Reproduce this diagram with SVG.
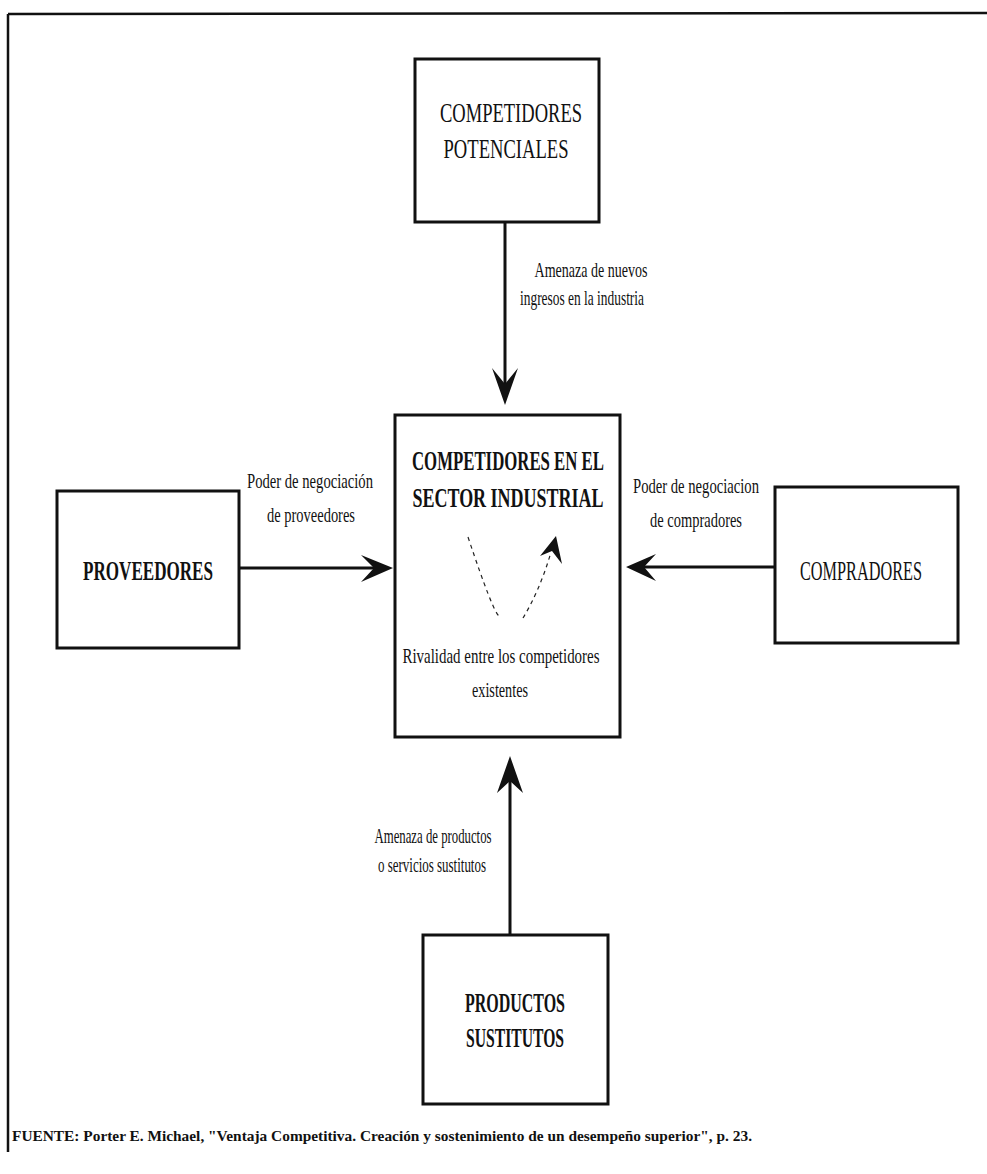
<svg xmlns="http://www.w3.org/2000/svg" width="987" height="1174" viewBox="0 0 987 1174">
  <style>
    .box { fill: #ffffff; stroke: #111111; stroke-width: 3; }
    .frame { fill: none; stroke: #111111; stroke-width: 2.5; }
    .line { fill: none; stroke: #111111; stroke-width: 3; }
    .head { fill: #111111; stroke: none; }
    .title { font-family: "Liberation Serif", "DejaVu Serif", serif; font-size: 27px; fill: #111111; text-anchor: middle; }
    .bold { font-weight: bold; }
    .label { font-family: "Liberation Serif", "DejaVu Serif", serif; font-size: 21px; fill: #111111; text-anchor: middle; }
    .note { font-family: "Liberation Serif", "DejaVu Serif", serif; font-size: 15px; font-weight: bold; fill: #111111; }
    .dash { fill: none; stroke: #222222; stroke-width: 1.2; stroke-dasharray: 4 4; }
  </style>

  <rect x="0" y="0" width="987" height="1174" fill="#ffffff"/>

  <!-- page frame: top and left rules -->
  <path class="frame" d="M8,14 L987,13 M8,14 L8,1152"/>

  <!-- connectors -->
  <g id="connectors">
    <!-- potential entrants -> industry -->
    <line class="line" x1="505" y1="222" x2="505" y2="390"/>
    <polygon class="head" points="505,405 492,368 505,384 518,368"/>
    <text class="label" x="591" y="277" textLength="113" lengthAdjust="spacingAndGlyphs">Amenaza de nuevos</text>
    <text class="label" x="582" y="305" textLength="124" lengthAdjust="spacingAndGlyphs">ingresos en la industria</text>

    <!-- suppliers -> industry -->
    <line class="line" x1="239" y1="568" x2="378" y2="568"/>
    <polygon class="head" points="393,568 361,555 374,568 361,582"/>
    <text class="label" x="310" y="488" textLength="126" lengthAdjust="spacingAndGlyphs">Poder de negociación</text>
    <text class="label" x="311" y="522" textLength="88" lengthAdjust="spacingAndGlyphs">de proveedores</text>

    <!-- buyers -> industry -->
    <line class="line" x1="775" y1="567" x2="640" y2="567"/>
    <polygon class="head" points="626,567 656,554 644,567 656,581"/>
    <text class="label" x="696" y="493" textLength="126" lengthAdjust="spacingAndGlyphs">Poder de negociacion</text>
    <text class="label" x="696" y="527" textLength="92" lengthAdjust="spacingAndGlyphs">de compradores</text>

    <!-- substitutes -> industry -->
    <line class="line" x1="510" y1="935" x2="510" y2="770"/>
    <polygon class="head" points="510,756 497,793 510,781 523,793"/>
    <text class="label" x="433" y="843" textLength="117" lengthAdjust="spacingAndGlyphs">Amenaza de productos</text>
    <text class="label" x="432" y="872" textLength="108" lengthAdjust="spacingAndGlyphs">o servicios sustitutos</text>
  </g>

  <!-- top -->
  <g id="competidores-potenciales">
    <rect class="box" x="415" y="59" width="184" height="163"/>
    <text class="title" x="511" y="122" textLength="142" lengthAdjust="spacingAndGlyphs">COMPETIDORES</text>
    <text class="title" x="506" y="158" textLength="125" lengthAdjust="spacingAndGlyphs">POTENCIALES</text>
  </g>

  <!-- center -->
  <g id="competidores-sector">
    <rect class="box" x="395" y="415" width="225" height="322"/>
    <text class="title bold" x="508" y="470" font-size="27" textLength="192" lengthAdjust="spacingAndGlyphs">COMPETIDORES EN EL</text>
    <text class="title bold" x="508" y="507" font-size="27" textLength="191" lengthAdjust="spacingAndGlyphs">SECTOR INDUSTRIAL</text>
    <!-- rivalry loop -->
    <path class="dash" d="M468,537 Q493,612 499,616"/>
    <path class="dash" d="M523,618 Q540,590 551,552"/>
    <polygon class="head" points="556,536 540,556 552,551 562,564"/>
    <text class="label" x="501" y="663" textLength="197" lengthAdjust="spacingAndGlyphs">Rivalidad entre los competidores</text>
    <text class="label" x="500" y="697" textLength="56" lengthAdjust="spacingAndGlyphs">existentes</text>
  </g>

  <!-- left -->
  <g id="proveedores">
    <rect class="box" x="57" y="491" width="182" height="157"/>
    <text class="title bold" x="148" y="580" textLength="130" lengthAdjust="spacingAndGlyphs">PROVEEDORES</text>
  </g>

  <!-- right -->
  <g id="compradores">
    <rect class="box" x="775" y="487" width="183" height="156"/>
    <text class="title" x="861" y="580" textLength="122" lengthAdjust="spacingAndGlyphs">COMPRADORES</text>
  </g>

  <!-- bottom -->
  <g id="productos-sustitutos">
    <rect class="box" x="423" y="935" width="185" height="169"/>
    <text class="title bold" x="515" y="1012" textLength="100" lengthAdjust="spacingAndGlyphs">PRODUCTOS</text>
    <text class="title bold" x="515" y="1047" textLength="98" lengthAdjust="spacingAndGlyphs">SUSTITUTOS</text>
  </g>

  <text class="note" x="12" y="1141" textLength="740" lengthAdjust="spacingAndGlyphs">FUENTE: Porter E. Michael, "Ventaja Competitiva. Creación y sostenimiento de un desempeño superior", p. 23.</text>
</svg>
